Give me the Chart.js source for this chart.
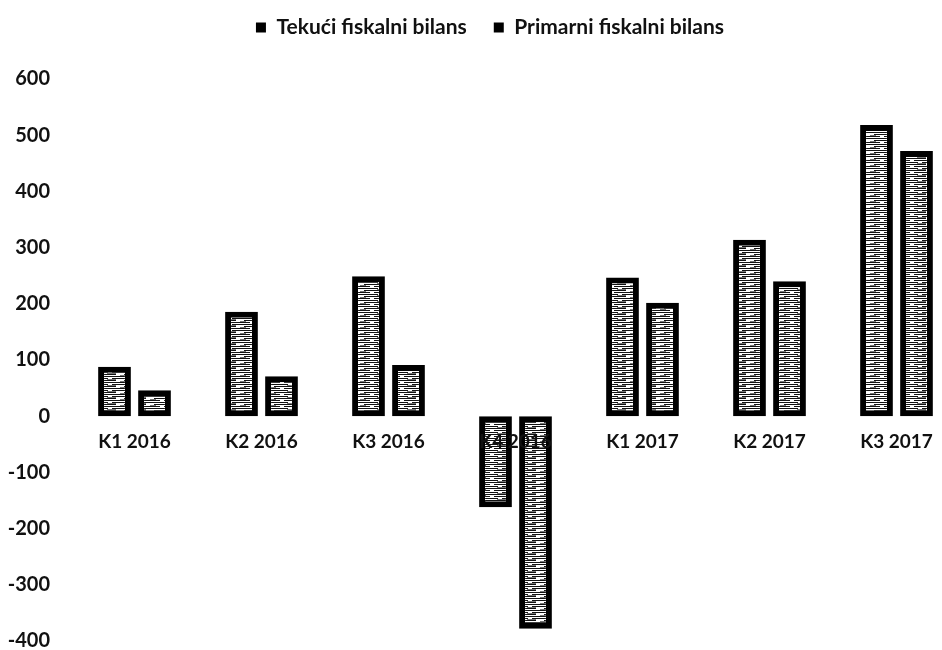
<!DOCTYPE html>
<html>
<head>
<meta charset="utf-8">
<script src="https://cdn.jsdelivr.net/npm/chart.js@4/dist/chart.umd.min.js"></script>
<style>
  html, body { margin: 0; padding: 0; background: #fff; overflow: hidden; }
  #wrap { width: 962px; height: 674px; }
</style>
</head>
<body>
<div id="wrap"><canvas id="chart"></canvas></div>
<script>
// quarters on the x axis
const quarters = ['K1 2016', 'K2 2016', 'K3 2016', 'K4 2016', 'K1 2017', 'K2 2017', 'K3 2017'];
const tekuci   = [88, 186, 249, -162, 247, 314, 518];
const primarni = [46, 71, 91, -378, 202, 240, 472];
const seriesNames = ['Tekući fiskalni bilans', 'Primarni fiskalni bilans'];
const yTicks = { min: -400, max: 600, step: 100 };

const FONT = 'Lato, "Open Sans", sans-serif';

// striped fill like the scanned bars
function stripePattern() {
  var c = document.createElement('canvas');
  c.width = 30; c.height = 6;
  var g = c.getContext('2d');
  g.fillStyle = '#fff';
  g.fillRect(0, 0, 30, 6);
  g.fillStyle = '#111';
  g.fillRect(0, 0, 18, 1);
  g.fillRect(22, 0, 8, 1);
  g.fillRect(4, 2, 22, 1);
  g.fillRect(0, 4, 10, 1);
  g.fillRect(14, 4, 16, 1);
  g.fillStyle = '#777';
  g.fillRect(0, 3, 6, 1);
  g.fillRect(17, 1, 9, 1);
  return g.createPattern(c, 'repeat');
}

var fill = stripePattern();

function barSet(label, data) {
  return {
    label: label,
    data: data,
    backgroundColor: fill,
    borderColor: '#000',
    borderWidth: 6,
    borderSkipped: false,
    barPercentage: 0.82,
    categoryPercentage: 0.63
  };
}

// push the plot down below the legend, and nudge the legend a bit right
var legendGap = {
  id: 'legendGap',
  beforeInit: function(chart) {
    var fit = chart.legend.fit;
    chart.legend.fit = function() {
      fit.bind(chart.legend)();
      this.height += 31;
    };
  },
  afterLayout: function(chart) {
    chart.legend.left += 10;
    chart.legend.right += 10;
  }
};

new Chart(document.getElementById('chart'), {
  type: 'bar',
  data: {
    labels: quarters,
    datasets: [barSet(seriesNames[0], tekuci), barSet(seriesNames[1], primarni)]
  },
  plugins: [legendGap],
  options: {
    responsive: true,
    maintainAspectRatio: false,
    animation: false,
    layout: { padding: { left: 0, right: 2, top: -10, bottom: 0 } },
    plugins: {
      tooltip: { enabled: false },
      legend: {
        position: 'top',
        labels: {
          color: '#111',
          font: { family: FONT, size: 21, weight: 'bold' },
          boxWidth: 10,
          boxHeight: 10,
          padding: 27,
          generateLabels: function(chart) {
            var items = Chart.defaults.plugins.legend.labels.generateLabels(chart);
            items.forEach(function(it) { it.fillStyle = '#000'; it.strokeStyle = '#000'; it.lineWidth = 0; });
            return items;
          }
        }
      }
    },
    scales: {
      x: {
        position: { y: 0 },
        grid: { display: false, drawTicks: false },
        border: { display: false },
        ticks: { z: 1, color: '#111', padding: 14, maxRotation: 0, font: { family: FONT, size: 19, weight: 'bold' } },
        afterFit: function(scale) { scale.height = 0; }
      },
      y: {
        min: yTicks.min,
        max: yTicks.max,
        grid: { display: false, drawTicks: false },
        border: { display: false },
        ticks: { stepSize: yTicks.step, color: '#111', padding: 21, font: { family: FONT, size: 20, weight: 'bold' } },
        afterFit: function(scale) { scale.width = 71; }
      }
    }
  }
});
</script>
</body>
</html>
